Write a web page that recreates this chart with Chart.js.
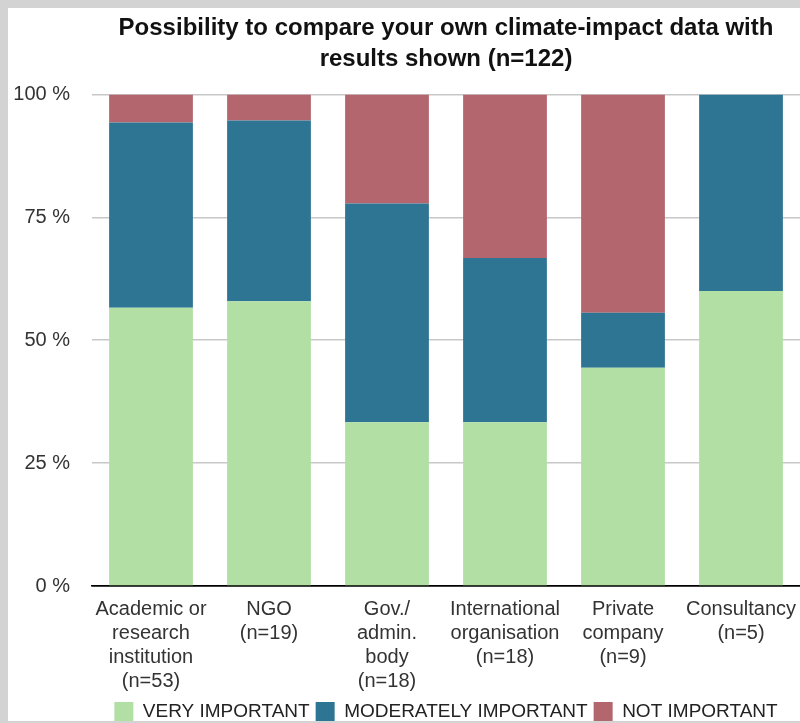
<!DOCTYPE html>
<html>
<head>
<meta charset="utf-8">
<script src="https://cdn.jsdelivr.net/npm/chart.js@4/dist/chart.umd.min.js"></script>
<style>
  body { margin: 0; background: #fff; }
  #wrap {
    position: absolute; left: 0; top: 0;
    width: 792px; height: 713px;
    border-left: 8px solid #d3d3d3;
    border-top: 8px solid #d3d3d3;
    border-bottom: 2px solid #d3d3d3;
    overflow: hidden;
  }
  #chart { display: block; width: 792px; height: 723px; }
</style>
</head>
<body>
<div id="wrap"><canvas id="chart" width="792" height="723"></canvas></div>
<script>
// categories (multi-line labels)
const categories = [
  ['Academic or', 'research', 'institution', '(n=53)'],
  ['NGO', '(n=19)'],
  ['Gov./', 'admin.', 'body', '(n=18)'],
  ['International', 'organisation', '(n=18)'],
  ['Private', 'company', '(n=9)'],
  ['Consultancy', '(n=5)']
];

// shares in percent
const veryImportant = [56.6, 57.9, 33.3, 33.3, 44.4, 60.0];
const moderatelyImportant = [37.7, 36.8, 44.5, 33.4, 11.2, 40.0];
const notImportant = [5.7, 5.3, 22.2, 33.3, 44.4, 0];

const yTicks = [0, 25, 50, 75, 100];

const ctx = document.getElementById('chart').getContext('2d');

Chart.defaults.font.family = '"Liberation Sans", Arial, Helvetica, sans-serif';
Chart.defaults.color = '#333';

new Chart(ctx, {
  type: 'bar',
  data: {
    labels: categories,
    datasets: [
      { label: 'VERY IMPORTANT', data: veryImportant, backgroundColor: '#b2dfa4' },
      { label: 'MODERATELY IMPORTANT', data: moderatelyImportant, backgroundColor: '#2e7593' },
      { label: 'NOT IMPORTANT', data: notImportant, backgroundColor: '#b4666e' }
    ]
  },
  options: {
    responsive: false,
    animation: false,
    datasets: {
      bar: { categoryPercentage: 1, barPercentage: 0.71 }
    },
    layout: { padding: 0 },
    plugins: {
      title: {
        display: true,
        fullSize: false,
        text: ['Possibility to compare your own climate-impact data with', 'results shown (n=122)'],
        color: '#111',
        font: { size: 24, weight: 'bold', lineHeight: 1.3 },
        padding: { top: 5, bottom: 19 }
      },
      legend: {
        position: 'bottom',
        fullSize: false,
        labels: {
          boxWidth: 19,
          boxHeight: 19,
          padding: 6,
          color: '#222',
          font: { size: 19, lineHeight: 1 }
        }
      },
      tooltip: { enabled: false }
    },
    scales: {
      x: {
        stacked: true,
        grid: { display: false },
        border: { color: '#000', width: 1.5 },
        afterFit: (scale) => { scale.paddingLeft = 0; scale.paddingRight = 0; },
        ticks: {
          color: '#333',
          font: { size: 20, lineHeight: 1.2 },
          maxRotation: 0,
          autoSkip: false,
          padding: 3
        }
      },
      y: {
        stacked: true,
        min: 0,
        max: 100,
        border: { display: false },
        grid: {
          drawTicks: false,
          color: (c) => c.tick && c.tick.value === 0 ? '#000' : '#c8c8c8',
          lineWidth: 1.5
        },
        afterBuildTicks: (scale) => {
          scale.ticks = yTicks.map((v) => ({ value: v }));
        },
        afterFit: (scale) => { scale.width = 84; },
        ticks: {
          color: '#333',
          font: { size: 20 },
          padding: 22,
          callback: (v) => v + ' %'
        }
      }
    }
  }
});
</script>
</body>
</html>
